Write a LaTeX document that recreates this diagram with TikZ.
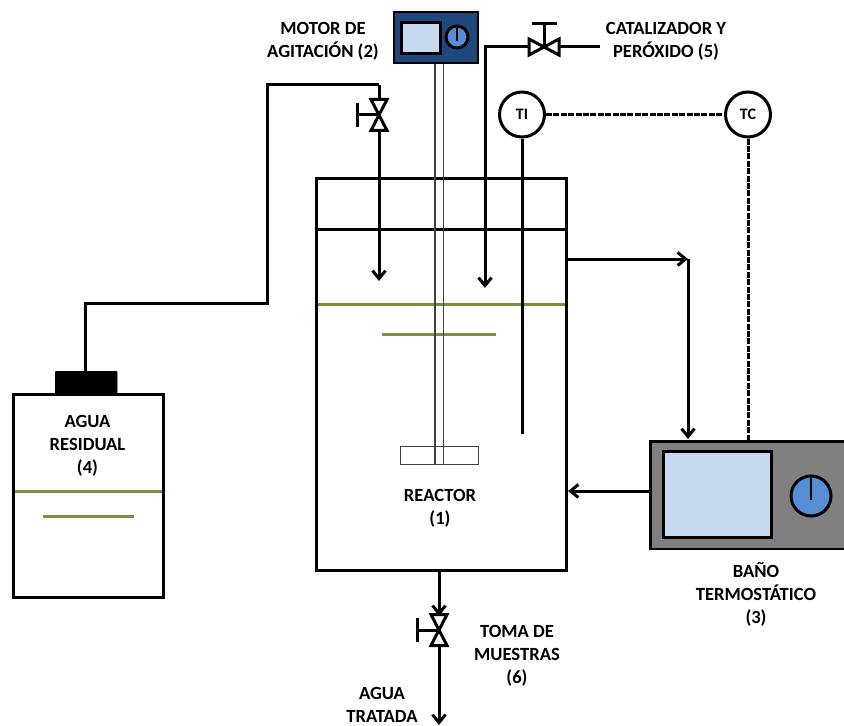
\documentclass[tikz,border=0pt]{standalone}
\usepackage{fontspec}
\setmainfont{Carlito}
\usetikzlibrary{arrows.meta}
\definecolor{motorblue}{HTML}{1F497D}
\definecolor{screenblue}{HTML}{C6D9F1}
\definecolor{knobblue}{HTML}{558ED5}
\definecolor{liquid}{HTML}{76923C}
\definecolor{bathgray}{HTML}{808080}
\tikzset{
  x=1bp,y=-1bp,
  box/.style={draw=black,line width=3bp,inner sep=0pt,outer sep=0pt},
  pipe/.style={draw=black,line width=3bp},
  flow/.style={pipe,-{Straight Barb[length=8bp,width=13bp,line width=3bp]}},
  signal/.style={draw=black,line width=3bp,dash pattern=on 6bp off 1.4bp},
  greenline/.style={draw=liquid,line width=3bp},
  shaftline/.style={draw=black!75,line width=1.2bp},
  label/.style={font=\fontsize{18.6bp}{23bp}\selectfont\bfseries,align=center,inner sep=0pt},
  instrument/.style={circle,draw=black,fill=white,line width=3bp,minimum size=45bp,inner sep=0pt,font=\fontsize{16bp}{18bp}\selectfont\bfseries},
  knob/.style={circle,draw=black,fill=knobblue,line width=3bp,inner sep=0pt},
  screen/.style={draw=black,fill=screenblue,line width=3bp,inner sep=0pt},
  valve tri/.style={draw=black,fill=white,line width=3bp,line join=miter},
}
\newcommand{\rectnode}[6]{\node[#6,minimum width=#3 bp,minimum height=#4 bp,anchor=north west] (#5) at (#1,#2) {};}
\begin{document}
\begin{tikzpicture}
\useasboundingbox (0,0) rectangle (844,726);
% reactor
\rectnode{316}{178}{250}{392}{reactor}{box}
\coordinate (lidL) at (316,229); \coordinate (lidR) at (566,229);
\draw[pipe] (lidL) -- (lidR);
\coordinate (liqL) at (317.5,304); \coordinate (liqR) at (564.5,304);
\draw[greenline] (liqL) -- (liqR);
\coordinate (liq2L) at (382,334); \coordinate (liq2R) at (496,334);
\draw[greenline] (liq2L) -- (liq2R);
% impeller and shaft
\rectnode{400}{446}{78}{17.5}{impeller}{draw=black!75,line width=1.2bp,fill=white,inner sep=0pt}
\rectnode{435}{62}{8}{401.5}{shaft}{inner sep=0pt}
\draw[shaftline] (shaft.north west) -- (shaft.south west);
\draw[shaftline] (shaft.north east) -- (shaft.south east);
% motor
\rectnode{393}{11.5}{84}{50.5}{motor}{draw=black,fill=motorblue,line width=1.8bp,inner sep=0pt}
\rectnode{400}{21.5}{38.5}{30.5}{motorscreen}{screen}
\node[knob,minimum size=22bp] (motorknob) at (457,37) {};
\coordinate (mk1) at (457,41); \coordinate (mk2) at (457,28);
\draw[line width=2.6bp] (mk1) -- (mk2);
% tank
\rectnode{13}{394}{150}{203}{tank}{box}
\rectnode{55}{371}{62}{23}{cap}{draw=black,fill=black,rounded corners=1bp,inner sep=0pt}
\coordinate (tg1) at (14.5,491); \coordinate (tg2) at (161.5,491);
\draw[greenline] (tg1) -- (tg2);
\coordinate (tg3) at (43,516); \coordinate (tg4) at (134,516);
\draw[greenline] (tg3) -- (tg4);
% bath
\rectnode{649}{440}{210}{107.5}{bath}{draw=black,fill=bathgray,line width=2.6bp,inner sep=0pt}
\rectnode{662}{450}{108}{86}{bathscreen}{screen}
\node[knob,minimum size=40bp] (bathknob) at (811,496) {};
\coordinate (bk1) at (811,500); \coordinate (bk2) at (811,478);
\draw[line width=2.8bp] (bk1) -- (bk2);
% instruments
\node[instrument] (TI) at (522,114.5) {TI};
\node[instrument] (TC) at (748,114.5) {TC};
\draw[signal] (TI) -- (TC);
\coordinate (tcb) at (748,440);
\draw[signal] (TC) -- (tcb);
\coordinate (tip) at (522,434);
\draw[pipe] (TI.south) -- (tip);
% feed pipe
\coordinate (feedA) at (85,371); \coordinate (feedB) at (85,303); \coordinate (feedC) at (267,303);
\coordinate (feedD) at (267,85); \coordinate (feedE) at (379,85); \coordinate (feedF) at (379,281);
\draw[pipe] (feedA) -- (feedB) -- (feedC) -- (feedD) -- (feedE);
\draw[flow] (feedE) -- (feedF);
% top-right feed
\coordinate (catA) at (600,47); \coordinate (catB) at (485,47); \coordinate (catC) at (485,288);
\draw[flow] (catA) -- (catB) -- (catC);
% thermostatic loop
\coordinate (outA) at (566,259); \coordinate (outB) at (688,259); \coordinate (outC) at (688,439);
\draw[flow] (outA) -- (outB);
\draw[flow] (outB) -- (outC);
\coordinate (retA) at (649,491); \coordinate (retB) at (568,491);
\draw[flow] (retA) -- (retB);
% outlet
\coordinate (dA) at (439,570); \coordinate (dB) at (439,616); \coordinate (dC) at (439,725);
\draw[flow] (dA) -- (dB);
\draw[flow] (dB) -- (dC);
% valves
\newcommand{\vvalve}[2]{%
  \draw[valve tri] (#1-8,#2-15.5) -- (#1+8,#2-15.5) -- (#1,#2) -- cycle;
  \draw[valve tri] (#1-8,#2+15.5) -- (#1+8,#2+15.5) -- (#1,#2) -- cycle;
  \draw[pipe] (#1,#2) -- (#1-22,#2);
  \draw[pipe] (#1-22,#2-12) -- (#1-22,#2+12);}
\vvalve{379}{115}
\vvalve{439}{630}
\draw[valve tri] (529,39) -- (529,55) -- (544,47) -- cycle;
\draw[valve tri] (559,39) -- (559,55) -- (544,47) -- cycle;
\draw[pipe] (544,47) -- (544,24);
\draw[pipe] (532,24) -- (557,24);
% labels
\node[label] (l2) at (323,41.5) {MOTOR DE\\AGITACIÓN (2)};
\node[label] (l5) at (666,41.5) {CATALIZADOR Y\\PERÓXIDO (5)};
\node[label] (l4) at (87.5,446) {AGUA\\RESIDUAL\\(4)};
\node[label] (l1) at (440,508.5) {REACTOR\\(1)};
\node[label] (l3) at (756,594.5) {BAÑO\\TERMOSTÁTICO\\(3)};
\node[label] (l6) at (517,655.5) {TOMA DE\\MUESTRAS\\(6)};
\node[label] (l7) at (382,705) {AGUA\\TRATADA};
\end{tikzpicture}
\end{document}
